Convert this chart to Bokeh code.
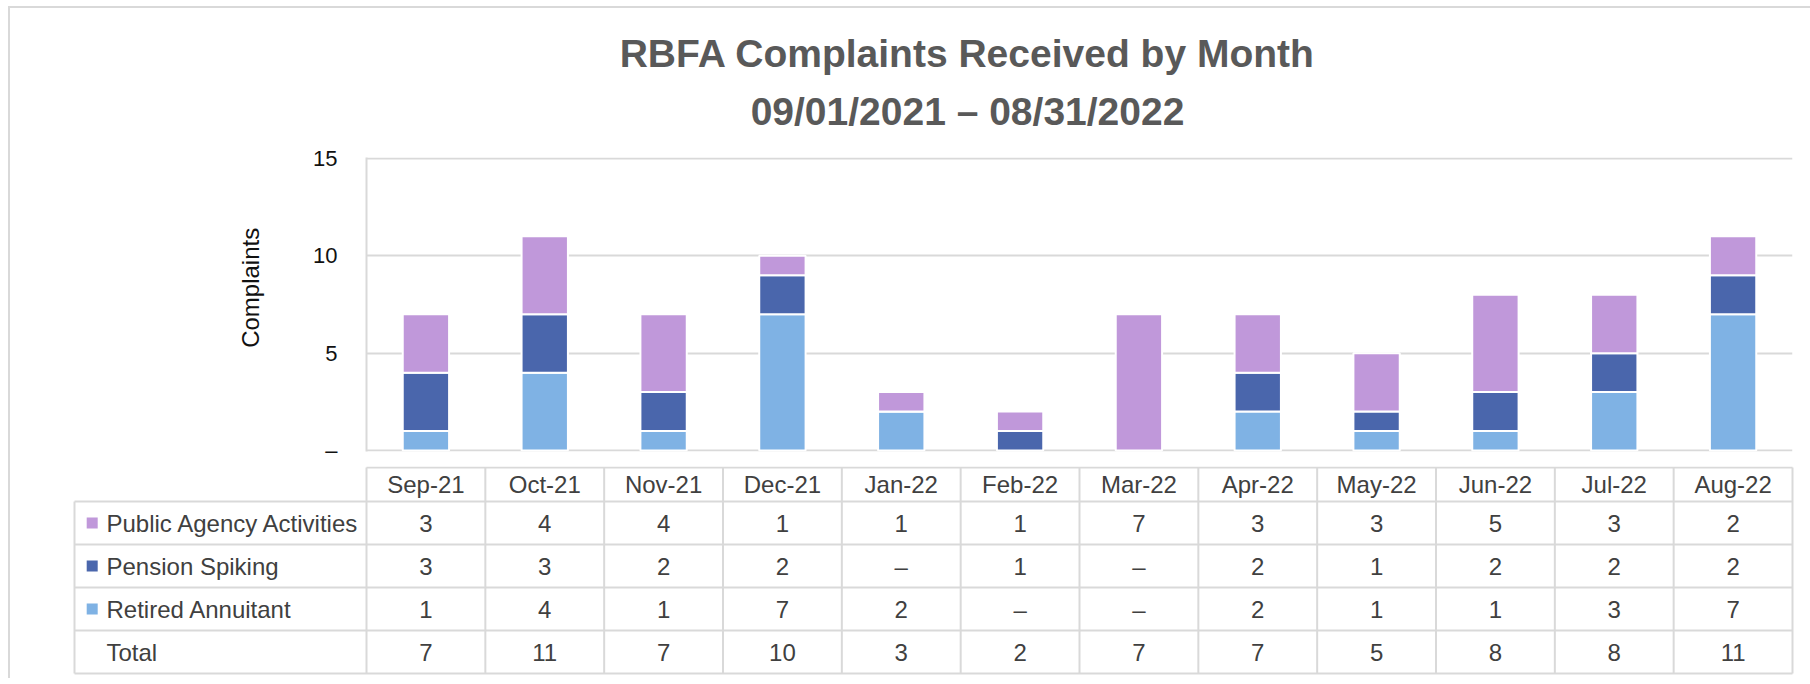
from bokeh.plotting import figure
from bokeh.models import Range1d, FactorRange, FixedTicker, ColumnDataSource
from bokeh.core.properties import value
from bokeh.embed import file_html
from bokeh.resources import INLINE

# ---------------- data ----------------
months = ["Sep-21", "Oct-21", "Nov-21", "Dec-21", "Jan-22", "Feb-22",
          "Mar-22", "Apr-22", "May-22", "Jun-22", "Jul-22", "Aug-22"]
public_agency = [3, 4, 4, 1, 1, 1, 7, 3, 3, 5, 3, 2]
pension_spiking = [3, 3, 2, 2, 0, 1, 0, 2, 1, 2, 2, 2]
retired_annuitant = [1, 4, 1, 7, 2, 0, 0, 2, 1, 1, 3, 7]
series_names = ["Public Agency Activities", "Pension Spiking", "Retired Annuitant"]
y_ticks = [0, 5, 10, 15]
y_tick_labels = {0: "\u2013", 5: "5", 10: "10", 15: "15"}
title_line1 = "RBFA Complaints Received by Month"
title_line2 = "09/01/2021 \u2013 08/31/2022"
y_label = "Complaints"
total_label = "Total"

# ---------------- style ----------------
C_PUB = "#C098DA"
C_PEN = "#4A66AC"
C_RET = "#7FB2E4"
GRID = "#d9d9d9"
TXT = "#404040"
FONT_NAME = "Liberation Sans"
FONT = value(FONT_NAME)
# outer chart-area border (light grey, left and top), drawn as inset shadows
SHADOW_LT = {"box-shadow": "inset 8px 0 0 0 #ffffff, inset 0 6px 0 0 #ffffff, "
                           "inset 10px 0 0 0 #d9d9d9, inset 0 8px 0 0 #d9d9d9"}
SHADOW_L = {"box-shadow": "inset 8px 0 0 0 #ffffff, inset 10px 0 0 0 #d9d9d9"}

W = 1810
FRAME_L = 366
COLW = (1792 - 366) / 12.0
FRAME_R = W - FRAME_L - 12 * COLW

# ---------------- title figure ----------------
HT = 140
pT = figure(width=W, height=HT, x_range=Range1d(0, W), y_range=Range1d(HT, 0),
            min_border=0, toolbar_location=None, output_backend="svg",
            x_axis_location=None, y_axis_location=None, styles=SHADOW_LT)
pT.grid.visible = False
pT.outline_line_color = None
pT.background_fill_color = None
pT.border_fill_color = None
pT.text(x=[967, 967], y=[53, 111], text=[title_line1, title_line2],
        text_font=FONT, text_font_style="bold", text_font_size="39px",
        text_color="#595959", text_align="center", text_baseline="middle")

# ---------------- chart figure ----------------
HA = 326
pA = figure(width=W, height=HA, x_range=FactorRange(*months, range_padding=0),
            y_range=Range1d(-0.05, 15.05), toolbar_location=None, output_backend="svg",
            min_border_left=FRAME_L, min_border_right=int(round(FRAME_R)),
            min_border_top=17, min_border_bottom=15, x_axis_location=None,
            styles=SHADOW_L)
pA.border_fill_color = None
pA.outline_line_color = None
pA.xgrid.visible = False
pA.ygrid.grid_line_color = GRID
pA.ygrid.grid_line_width = 2
yax = pA.yaxis[0]
yax.ticker = FixedTicker(ticks=y_ticks)
yax.major_label_overrides = y_tick_labels
yax.major_tick_line_color = None
yax.minor_tick_line_color = None
yax.major_tick_out = 0
yax.major_tick_in = 0
yax.major_label_standoff = 29
yax.axis_line_color = GRID
yax.axis_line_width = 2
yax.major_label_text_font = FONT_NAME
yax.major_label_text_font_size = "22px"
yax.major_label_text_color = "#111111"
# leading no-break spaces lift the rotated label a little above the frame centre
yax.axis_label = "\u00a0" * 5 + y_label
yax.axis_label_text_font = FONT_NAME
yax.axis_label_text_font_size = "24px"
yax.axis_label_text_font_style = "normal"
yax.axis_label_text_color = "#111111"
yax.axis_label_standoff = 46

src = ColumnDataSource(dict(month=months, ret=retired_annuitant,
                            pen=pension_spiking, pub=public_agency))
pA.vbar_stack(["ret", "pen", "pub"], x="month", width=0.39, source=src,
              color=[C_RET, C_PEN, C_PUB], line_color="white", line_width=2)

# ---------------- table figure ----------------
HB = 212
def px_to_x(px):
    return (px - FRAME_L) / COLW

pB = figure(width=W, height=HB, x_range=Range1d(px_to_x(0), px_to_x(W)),
            y_range=Range1d(HB, 0), min_border=0, toolbar_location=None,
            output_backend="svg", x_axis_location=None, y_axis_location=None,
            styles=SHADOW_L)
pB.grid.visible = False
pB.outline_line_color = None
pB.background_fill_color = None
pB.border_fill_color = None

header_top = 1
header_h = 34
row_h = 43
row_edges = [header_top + header_h + k * row_h for k in range(5)]
legend_left = px_to_x(74)
n = len(months)

# table lines
xs0 = [0] + [legend_left] * 5
xs1 = [n] * 6
ys = [header_top] + row_edges
pB.segment(x0=xs0, y0=ys, x1=xs1, y1=ys, line_color=GRID, line_width=2)
vx = list(range(n + 1)) + [legend_left]
vy0 = [header_top] * (n + 1) + [row_edges[0]]
vy1 = [row_edges[-1]] * (n + 2)
pB.segment(x0=vx, y0=vy0, x1=vx, y1=vy1, line_color=GRID, line_width=2)

# header (months)
xc = [i + 0.5 for i in range(n)]
pB.text(x=xc, y=[header_top + header_h / 2] * n, text=months,
        text_font=FONT, text_font_size="24px", text_color=TXT,
        text_align="center", text_baseline="middle")

totals = [a + b + c for a, b, c in zip(public_agency, pension_spiking, retired_annuitant)]
rows = [public_agency, pension_spiking, retired_annuitant, totals]
fmt = lambda v: "\u2013" if v == 0 else str(v)
for r, vals in enumerate(rows):
    yc = (row_edges[r] + row_edges[r + 1]) / 2
    pB.text(x=xc, y=[yc] * n, text=[fmt(v) for v in vals],
            text_font=FONT, text_font_size="24px", text_color=TXT,
            text_align="center", text_baseline="middle")

labels = series_names + [total_label]
label_y = [(row_edges[r] + row_edges[r + 1]) / 2 for r in range(4)]
pB.text(x=[px_to_x(106)] * 4, y=label_y, text=labels,
        text_font=FONT, text_font_size="24px", text_color=TXT,
        text_align="left", text_baseline="middle")
pB.rect(x=[px_to_x(91.7)] * 3, y=label_y[:3], width=11, height=11,
        width_units="screen", height_units="screen",
        fill_color=[C_PUB, C_PEN, C_RET], line_color=None)

open("out.html", "w").write(file_html([pT, pA, pB], INLINE))
